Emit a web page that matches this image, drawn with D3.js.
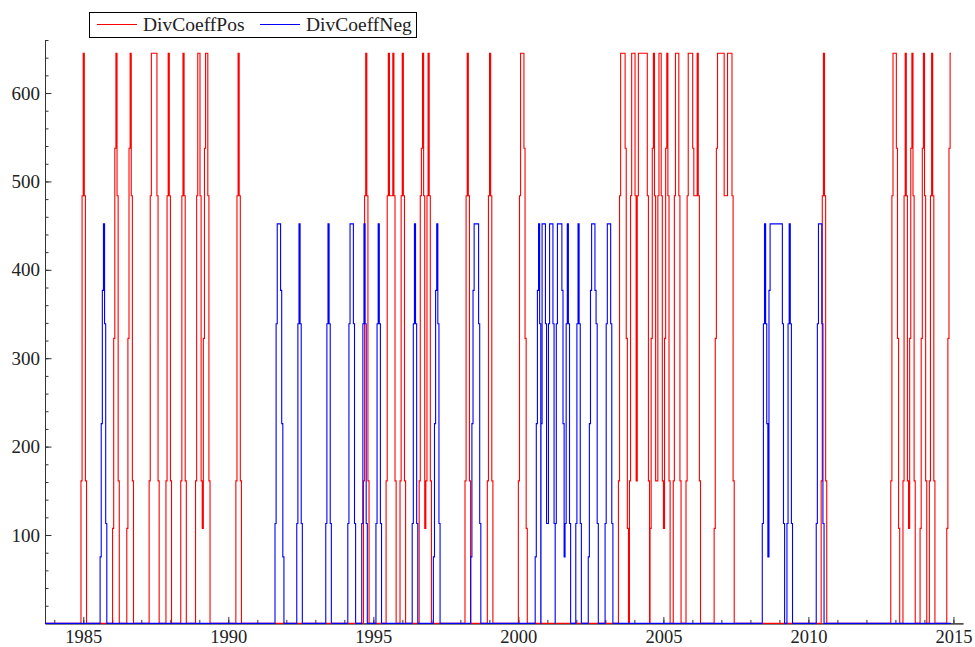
<!DOCTYPE html>
<html>
<head>
<meta charset="utf-8">
<script src="https://cdn.jsdelivr.net/npm/d3@7"></script>
<style>
  html, body { margin: 0; padding: 0; background: #fff; }
  svg { display: block; }
  text { font-family: "Liberation Serif", "DejaVu Serif", serif; fill: #222; }
</style>
</head>
<body>
<svg id="chart" width="975" height="647"></svg>
<script>
// ---------------- data ----------------
const seriesNames = ["DivCoeffPos", "DivCoeffNeg"];
const seriesColors = ["#ff0000", "#0000ff"];

// discrete levels used by each series (index 0..6)
const redLevels  = [0, 107.5, 161.25, 322.5, 483.75, 537.5, 645];
const blueLevels = [0, 75.3, 113, 226, 339, 376.7, 452];

// sampling step of the series (years) and data span
const stepYears = 1 / 26;
const dataStart = 1983.68;
const dataEnd = 2014.915;

// pulses: [start year, sequence of level indices, one per step]
const redPulses = [
  [1984.92, [2,4,6,4,2]],
  [1986.01, [1,3,5,6,4,2]],
  [1986.50, [1,3,5,6,4,2]],
  [1987.27, [2,4,6,6,6,6,6,4,2]],
  [1987.85, [2,4,6,4,2]],
  [1988.36, [2,4,6,4,2]],
  [1988.87, [2,4,6,6,4,2,1,3,5,6,6,4,2]],
  [1990.26, [2,4,6,4,2]],
  [1994.66, [2,4,6,4,2]],
  [1995.44, [2,4,6,4,4,4,6,4,2]],
  [1995.92, [2,4,6,4,2]],
  [1996.58, [2,4,5,6,4,1,2,4,6,4,2]],
  [1998.16, [2,4,6,4,2]],
  [1998.93, [2,4,6,4,2]],
  [2000.00, [2,4,6,6,6,5,3,1]],
  [2003.45, [2,4,6,6,6,6,5,3,1]],
  [2003.83, [2,4,6,6,6,4,2,4,6,6,6,6,6,6,6,6,4,2]],
  [2004.54, [1,3,5,6,4,2,2,4,6,6,4,2,1,3,5,6,4,2]],
  [2005.34, [2,4,6,6,6,4,2]],
  [2005.78, [2,4,6,6,6,6,5,4,4,4,6,4,2]],
  [2006.75, [1,3,5,6,6,6,6,6,6,4,4,4,6,6,6,6,4,2]],
  [2010.44, [2,4,6,4,2]],
  [2012.84, [2,4,6,6,6,5,3,1]],
  [2013.26, [2,4,6,4,2,1,3,5,6,4,2]],
  [2013.85, [1,3,5,6,4,2]],
  [2014.17, [2,4,6,4,2]],
  [2014.77, [1,3,5,6]]
];

const bluePulses = [
  [1985.58, [1,3,5,6,4,2]],
  [1991.61, [2,4,6,6,6,5,3,1]],
  [1992.36, [2,4,6,4,2]],
  [1993.36, [2,4,6,4,2]],
  [1994.12, [2,4,6,6,6,4,2]],
  [1994.60, [2,4,6,4,2]],
  [1995.09, [2,4,6,4,2]],
  [1996.34, [2,4,6,4,2]],
  [1997.07, [1,3,5,6,4,2]],
  [1998.36, [1,3,5,6,6,6,6,4,2]],
  [2000.58, [1,3,5,6,4]],
  [2000.78, [3,6,6,6,4,2]],
  [2001.00, [2,4,6,6,6,4,2]],
  [2001.27, [2,4,6,6,6,6,5,3,1]],
  [2001.61, [2,4,6,4,2]],
  [2001.98, [2,4,6,4,2]],
  [2002.41, [1,3,5,6,6,6,5,4,2]],
  [2002.99, [2,4,6,6,6,4,2]],
  [2008.41, [2,4,6,4,3,1,5,6,6,6,6,6,6,6,6,6,6,6,4,2]],
  [2009.26, [2,4,6,4,2]],
  [2010.27, [2,4,6,6,6,4,2]]
];

// axis ticks
const xMajorTicks = [1985, 1990, 1995, 2000, 2005, 2010, 2015];
const xMinorTicks = d3.range(1984, 2016);
const yMajorTicks = [100, 200, 300, 400, 500, 600];
const yMinorTicks = d3.range(20, 661, 20);

// ---------------- build step series ----------------
function buildSeries(pulses, levels) {
  let pts = [[dataStart, 0]];
  pulses.forEach(([s, seq]) => {
    pts = pts.filter(p => p[0] < s);
    seq.forEach((k, i) => pts.push([s + i * stepYears, levels[k]]));
    pts.push([s + seq.length * stepYears, 0]);
  });
  pts = pts.filter(p => p[0] < dataEnd);
  pts.push([dataEnd, pts[pts.length - 1][1]]);
  return pts;
}
const redSeries = buildSeries(redPulses, redLevels);
const blueSeries = buildSeries(bluePulses, blueLevels);

// ---------------- drawing ----------------
const svg = d3.select("#chart");
const x = d3.scaleLinear().domain([1983.68, 2015.33]).range([45, 963]);
const y = d3.scaleLinear().domain([0, 660]).range([623.4, 40]);

const line = d3.line()
  .x(d => x(d[0]))
  .y(d => y(d[1]))
  .curve(d3.curveStepAfter);

// axes
const axisColor = "#333";
const gx = svg.append("g").attr("transform", `translate(0,${y(0)})`);
gx.call(d3.axisBottom(x).tickValues(xMinorTicks).tickSize(-3.5).tickFormat("").tickSizeOuter(0));
const gx2 = svg.append("g").attr("transform", `translate(0,${y(0)})`);
gx2.call(d3.axisBottom(x).tickValues(xMajorTicks).tickSize(-6.5).tickPadding(6.5)
  .tickFormat(d3.format("d")).tickSizeOuter(0));
[gx, gx2].forEach(g => {
  g.select(".domain").attr("stroke", axisColor);
  g.selectAll(".tick line").attr("stroke", axisColor);
});
gx2.selectAll("text").attr("font-size", 18.5).style("font-family", "Liberation Serif").attr("fill", "#222");

const gy = svg.append("g").attr("transform", `translate(${x(1983.68)},0)`);
gy.call(d3.axisLeft(y).tickValues(yMinorTicks).tickSize(-3.5).tickFormat("").tickSizeOuter(0));
const gy2 = svg.append("g").attr("transform", `translate(${x(1983.68)},0)`);
gy2.call(d3.axisLeft(y).tickValues(yMajorTicks).tickSize(-6.5).tickPadding(5).tickSizeOuter(0));
[gy, gy2].forEach(g => {
  g.select(".domain").attr("stroke", axisColor);
  g.selectAll(".tick line").attr("stroke", axisColor);
});
gy2.selectAll("text").attr("font-size", 19).style("font-family", "Liberation Serif").attr("fill", "#222");

// series (red first, blue on top)
svg.append("path").datum(redSeries)
  .attr("d", line).attr("fill", "none")
  .attr("stroke", seriesColors[0]).attr("stroke-width", 1.1);
svg.append("path").datum(blueSeries)
  .attr("d", line).attr("fill", "none")
  .attr("stroke", seriesColors[1]).attr("stroke-width", 1.1);

// legend
const lg = svg.append("g");
lg.append("rect").attr("x", 89.5).attr("y", 12.5).attr("width", 327).attr("height", 25)
  .attr("fill", "#fff").attr("stroke", "#000").attr("stroke-width", 1);
const legendX = [[97, 137, 143], [260, 300, 306]];
seriesNames.forEach((name, i) => {
  const [x1, x2, tx] = legendX[i];
  lg.append("line").attr("x1", x1).attr("x2", x2).attr("y1", 24.5).attr("y2", 24.5)
    .attr("stroke", seriesColors[i]).attr("stroke-width", 1.1);
  lg.append("text").attr("x", tx).attr("y", 31).attr("font-size", 19.5).text(name);
});
</script>
</body>
</html>
